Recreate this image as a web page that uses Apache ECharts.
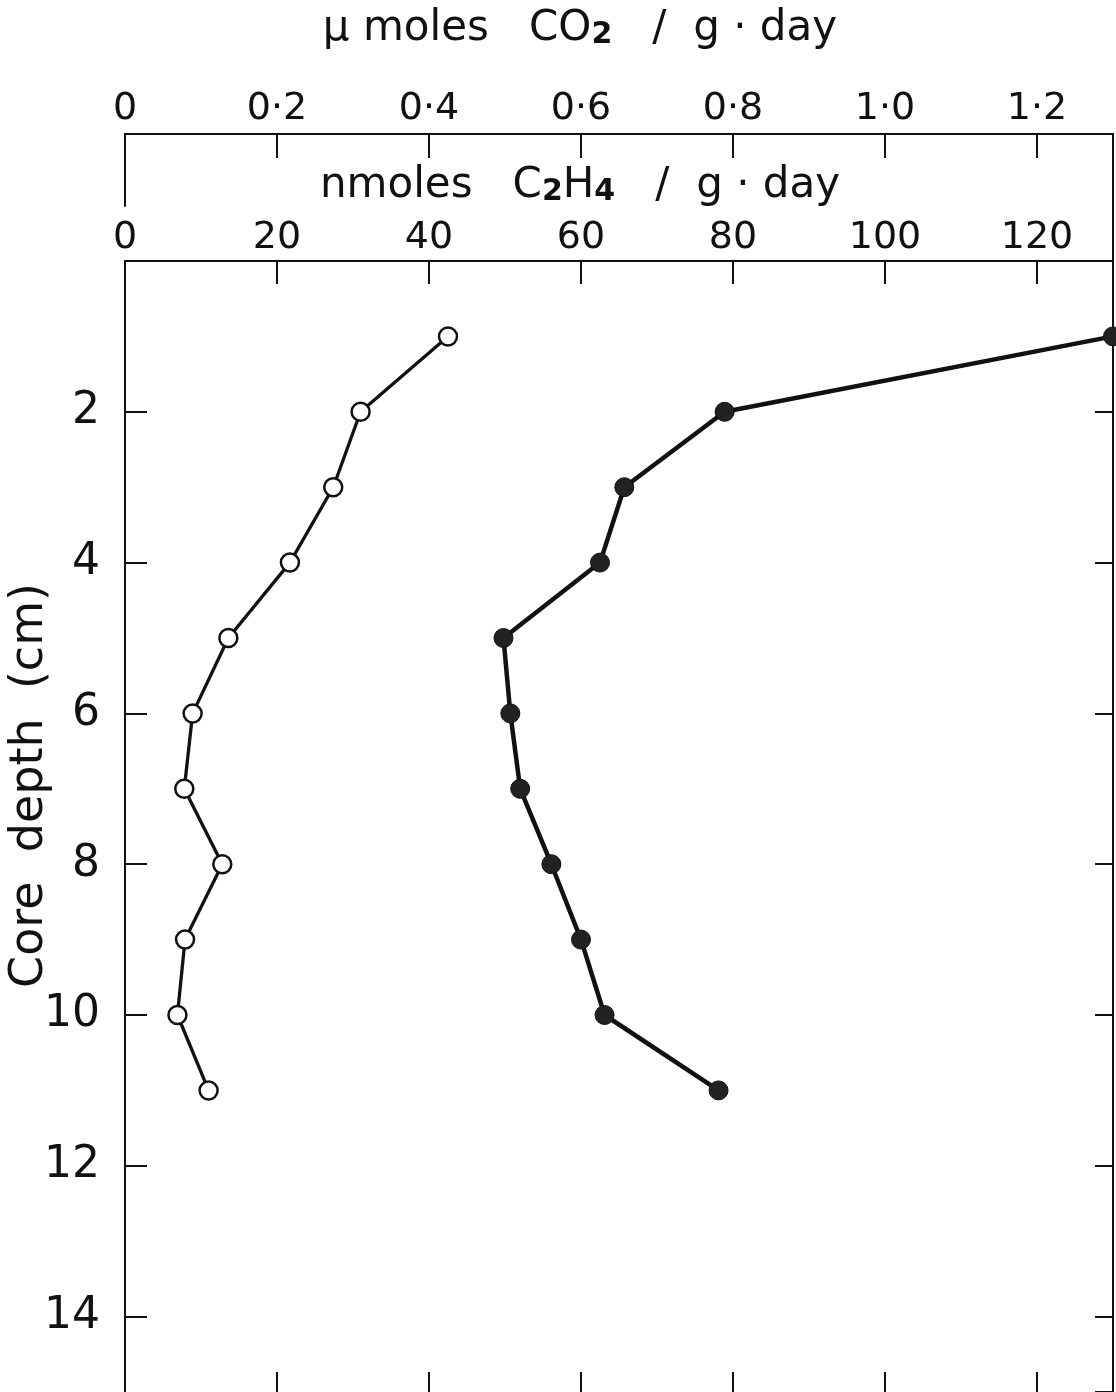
<!DOCTYPE html>
<html>
<head>
<meta charset="utf-8">
<script src="https://cdn.jsdelivr.net/npm/echarts@6/dist/echarts.min.js"></script>
<style>
  html, body { margin: 0; padding: 0; background: #fff; }
  #chart { width: 1116px; height: 1392px; }
</style>
</head>
<body>
<div id="chart"></div>
<script>
// Core depth (cm)
const depths = [1, 2, 3, 4, 5, 6, 7, 8, 9, 10, 11];
// Open circles: µmoles CO2 / g·day
const co2Values = [0.425, 0.31, 0.274, 0.217, 0.136, 0.089, 0.078, 0.128, 0.079, 0.069, 0.11];
// Filled circles: nmoles C2H4 / g·day
const c2h4Values = [130, 78.9, 65.7, 62.5, 49.8, 50.7, 52.0, 56.1, 60.0, 63.1, 78.1];

const FONT = 'DejaVu Sans';
const INK = '#111';

const chart = echarts.init(document.getElementById('chart'), null, { renderer: 'canvas' });

const subStyle = { fontFamily: FONT, fontSize: 30, fontWeight: 'bold', color: INK, verticalAlign: 'bottom', lineHeight: 36 };
const lineOpt = { show: true, onZero: false, lineStyle: { color: INK, width: 2 } };

const option = {
  backgroundColor: '#fff',
  animation: false,
  grid: [
    { left: 125, right: 3, top: 261, bottom: 0, outerBoundsMode: 'none', containLabel: false },
    { left: 125, right: 3, top: 134, height: 127, outerBoundsMode: 'none', containLabel: false },
    { left: 125, right: 3, top: 134, height: 72, outerBoundsMode: 'none', containLabel: false }
  ],
  xAxis: [
    {
      gridIndex: 0, type: 'value', position: 'top', min: 0, max: 130, interval: 20,
      name: 'nmoles   C{s|2}H{s|4}   /  g · day', nameLocation: 'middle', nameGap: 54,
      nameMoveOverlap: false,
      nameTextStyle: {
        fontFamily: FONT, fontSize: 42, color: INK, padding: [0, 78, 0, 0],
        rich: { s: subStyle }
      },
      axisLine: lineOpt,
      axisTick: { show: true, inside: true, length: 23, lineStyle: { color: INK, width: 2 } },
      axisLabel: { show: true, fontFamily: FONT, fontSize: 38, color: INK, margin: 4, showMaxLabel: false },
      splitLine: { show: false }
    },
    {
      gridIndex: 0, type: 'value', position: 'bottom', min: 0, max: 130, interval: 20,
      axisLine: { show: false, onZero: false },
      axisTick: { show: true, inside: true, length: 20, lineStyle: { color: INK, width: 2 } },
      axisLabel: { show: false },
      splitLine: { show: false }
    },
    {
      gridIndex: 0, type: 'value', show: false, min: 0, max: 1.3,
      axisLine: { show: false, onZero: false },
      splitLine: { show: false }
    },
    {
      gridIndex: 1, type: 'value', position: 'top', min: 0, max: 1.3, interval: 0.2,
      name: 'μ moles   CO{s|2}   /  g · day', nameLocation: 'middle', nameGap: 84,
      nameMoveOverlap: false,
      nameTextStyle: {
        fontFamily: FONT, fontSize: 42, color: INK, padding: [0, 78, 0, 0],
        rich: { s: subStyle }
      },
      axisLine: lineOpt,
      axisTick: { show: true, inside: true, length: 24, lineStyle: { color: INK, width: 2 } },
      axisLabel: {
        show: true, fontFamily: FONT, fontSize: 38, color: INK, margin: 6, showMaxLabel: false,
        formatter: function (v) { return v === 0 ? '0' : v.toFixed(1).replace('.', '·'); }
      },
      splitLine: { show: false }
    },
    {
      gridIndex: 2, type: 'value', show: false, min: 0, max: 1,
      axisLine: { show: false, onZero: false },
      splitLine: { show: false }
    }
  ],
  yAxis: [
    {
      gridIndex: 0, type: 'value', position: 'left', inverse: true, min: 0, max: 15, interval: 2,
      name: '{g|}{t|Core  depth  (cm)}', nameLocation: 'middle', nameGap: 72,
      nameMoveOverlap: false,
      nameTextStyle: {
        fontFamily: FONT, fontSize: 46, color: INK,
        rich: {
          g: { width: 82, height: 10 },
          t: { fontFamily: FONT, fontSize: 46, color: INK }
        }
      },
      axisLine: lineOpt,
      axisTick: { show: true, inside: true, length: 22, lineStyle: { color: INK, width: 2 } },
      axisLabel: { show: true, fontFamily: FONT, fontSize: 44, color: INK, margin: 25, showMinLabel: false, showMaxLabel: false },
      splitLine: { show: false }
    },
    {
      gridIndex: 0, type: 'value', position: 'right', inverse: true, min: 0, max: 15, interval: 2,
      axisLine: lineOpt,
      axisTick: { show: true, inside: true, length: 18, lineStyle: { color: INK, width: 2 } },
      axisLabel: { show: false },
      splitLine: { show: false }
    },
    {
      gridIndex: 1, type: 'value', position: 'right', min: 0, max: 1,
      axisLine: lineOpt,
      axisTick: { show: false }, axisLabel: { show: false }, splitLine: { show: false }
    },
    {
      gridIndex: 2, type: 'value', position: 'left', min: 0, max: 1,
      axisLine: lineOpt,
      axisTick: { show: false }, axisLabel: { show: false }, splitLine: { show: false }
    }
  ],
  series: [
    {
      name: 'C2H4', type: 'line', xAxisIndex: 0, yAxisIndex: 0,
      data: depths.map((d, i) => [c2h4Values[i], d]),
      symbol: 'circle', symbolSize: 19, clip: false,
      itemStyle: { color: '#222', borderColor: INK, borderWidth: 1 },
      lineStyle: { color: INK, width: 4.5 },
      z: 3
    },
    {
      name: 'CO2', type: 'line', xAxisIndex: 2, yAxisIndex: 0,
      data: depths.map((d, i) => [co2Values[i], d]),
      symbol: 'circle', symbolSize: 18, clip: false,
      itemStyle: { color: '#fff', borderColor: INK, borderWidth: 2.5 },
      lineStyle: { color: INK, width: 3.3 },
      z: 3
    }
  ]
};

chart.setOption(option);
</script>
</body>
</html>
